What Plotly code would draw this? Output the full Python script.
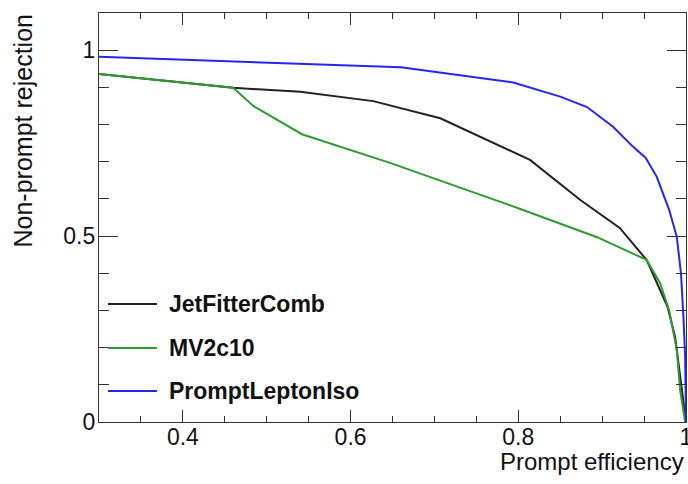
import plotly.graph_objects as go

series_names = ["JetFitterComb", "MV2c10", "PromptLeptonIso"]

jfc_x = [0.3, 0.46, 0.54, 0.627, 0.707, 0.814, 0.874, 0.921, 0.953, 0.978, 0.987, 0.994, 1.0]
jfc_y = [0.936, 0.899, 0.888, 0.863, 0.817, 0.705, 0.597, 0.522, 0.436, 0.31, 0.229, 0.105, 0.0]

mv2_x = [0.3, 0.46, 0.484, 0.542, 0.647, 0.80, 0.894, 0.953, 0.969, 0.98, 0.989, 0.993, 0.999]
mv2_y = [0.936, 0.899, 0.850, 0.774, 0.697, 0.575, 0.497, 0.436, 0.374, 0.30, 0.194, 0.086, 0.0]

pli_x = [0.3, 0.66, 0.794, 0.85, 0.882, 0.913, 0.937, 0.952, 0.965, 0.98, 0.989, 0.994, 0.997, 0.999, 1.0]
pli_y = [0.982, 0.954, 0.913, 0.875, 0.847, 0.794, 0.740, 0.71, 0.660, 0.570, 0.498, 0.40, 0.28, 0.175, 0.0]

colors = ["#222222", "#2f9a2f", "#2525f5"]
xs = [jfc_x, mv2_x, pli_x]
ys = [jfc_y, mv2_y, pli_y]

FONT = "Liberation Sans, Arial, sans-serif"

fig = go.Figure()
for name, x, y, c in zip(series_names, xs, ys, colors):
    fig.add_trace(go.Scatter(x=x, y=y, mode="lines", name=name,
                             line=dict(color=c, width=2), showlegend=False))

# manual legend (ROOT style)
leg_y_px = [304, 348, 391]
plot_top, plot_bottom, plot_left, plot_w = 13, 422, 99, 587
for name, c, ypx in zip(series_names, colors, leg_y_px):
    yp = (plot_bottom - ypx) / (plot_bottom - plot_top)
    x0 = (108 - plot_left) / plot_w
    x1 = (157 - plot_left) / plot_w
    fig.add_shape(type="line", xref="paper", yref="paper", x0=x0, x1=x1, y0=yp, y1=yp,
                  line=dict(color=c, width=2))
    fig.add_annotation(xref="paper", yref="paper", x=(167 - plot_left) / plot_w, y=yp,
                       xanchor="left", yanchor="middle", text="<b>%s</b>" % name,
                       showarrow=False, font=dict(family=FONT, size=23, color="#111"))

fig.add_annotation(xref="paper", yref="paper", x=1.0, y=(plot_bottom - 461) / (plot_bottom - plot_top),
                   xanchor="right", yanchor="middle", text="Prompt efficiency",
                   showarrow=False, font=dict(family=FONT, size=24, color="#111"))
fig.add_annotation(xref="paper", yref="paper", x=(22 - plot_left) / plot_w, y=1.0,
                   xanchor="center", yanchor="top", text="Non-prompt rejection", textangle=-90,
                   showarrow=False, font=dict(family=FONT, size=25, color="#111"))

axis_common = dict(showgrid=False, zeroline=False, showline=True, linecolor="#333",
                   linewidth=1.3, mirror="allticks", ticks="inside", tickcolor="#333",
                   tickwidth=1.3, automargin=False,
                   tickfont=dict(family=FONT, size=23, color="#111"))

fig.update_xaxes(range=[0.3, 1.0], tick0=0.4, dtick=0.2, ticklen=12, ticklabelstandoff=-6,
                 ticklabeloverflow="allow",
                 minor=dict(tick0=0.3, dtick=0.05, ticks="inside", ticklen=6,
                            tickcolor="#333", tickwidth=1.3, showgrid=False),
                 **axis_common)
fig.update_yaxes(range=[0, 1.1], tick0=0, dtick=0.5, ticklen=19, ticklabelstandoff=-2,
                 minor=dict(tick0=0, dtick=0.1, ticks="inside", ticklen=10,
                            tickcolor="#333", tickwidth=1.3, showgrid=False),
                 **axis_common)

fig.update_layout(width=688, height=484, margin=dict(l=99, r=2, t=13, b=62, autoexpand=False),
                  paper_bgcolor="white", plot_bgcolor="white")

fig.write_html("out.html", config={"displayModeBar": False},
               post_script="document.body.style.margin='0px';document.body.style.padding='0px';")
